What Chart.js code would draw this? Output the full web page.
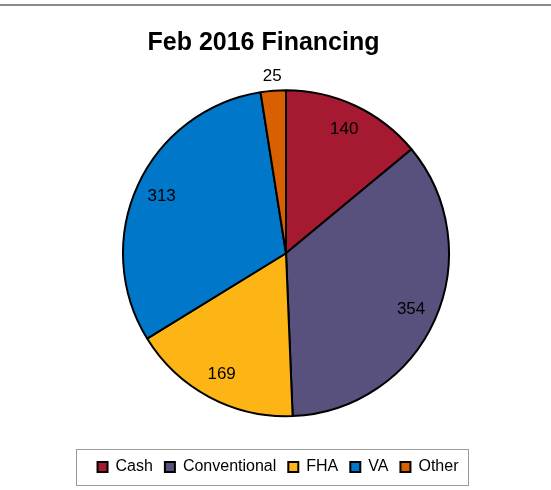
<!DOCTYPE html>
<html>
<head>
<meta charset="utf-8">
<title>Feb 2016 Financing</title>
<script src="https://cdn.jsdelivr.net/npm/chart.js@4/dist/chart.umd.min.js"></script>
<style>
    html, body { margin: 0; padding: 0; background: #ffffff; }
    #wrap { width: 551px; height: 490px; }
</style>
</head>
<body>
<div id="wrap"><canvas id="financingChart" width="551" height="490"></canvas></div>
<script>
// Financing counts for Feb 2016
const categories = ['Cash', 'Conventional', 'FHA', 'VA', 'Other'];
const counts = [140, 354, 169, 313, 25];
const sliceColors = ['#A51A30', '#58507D', '#FDB515', '#0077C8', '#D86000'];

const FONT = "'Liberation Sans', Arial, sans-serif";

// Gray rule across the top and the frame around the legend
const framePlugin = {
    id: 'frame',
    afterLayout(chart) {
        // Title and legend sit a little left of the pie in the original
        chart.titleBlock.left -= 22.5;
        chart.titleBlock.right -= 22.5;
        chart.legend.left -= 8;
        chart.legend.right -= 8;
    },
    beforeDraw(chart) {
        const ctx = chart.ctx;
        ctx.save();
        ctx.fillStyle = '#ffffff';
        ctx.fillRect(0, 0, chart.width, chart.height);
        ctx.strokeStyle = '#8a8a8a';
        ctx.lineWidth = 2;
        ctx.beginPath();
        ctx.moveTo(0, 5);
        ctx.lineTo(chart.width, 5);
        ctx.stroke();
        ctx.restore();
    },
    afterDraw(chart) {
        const boxes = chart.legend.legendHitBoxes;
        if (!boxes || !boxes.length) return;
        const first = boxes[0];
        const last = boxes[boxes.length - 1];
        const midY = first.top + first.height / 2;
        const ctx = chart.ctx;
        ctx.save();
        ctx.strokeStyle = '#9a9a9a';
        ctx.lineWidth = 1;
        ctx.strokeRect(Math.round(first.left - 22) + 0.5, Math.round(midY - 18) + 0.5,
            Math.round(last.left + last.width + 9 - (first.left - 22)), 36);
        ctx.restore();
    }
};

// Value labels: inside near the rim, outside for thin slices
const valueLabels = {
    id: 'valueLabels',
    afterDatasetsDraw(chart) {
        const ctx = chart.ctx;
        const meta = chart.getDatasetMeta(0);
        const values = chart.data.datasets[0].data;
        const total = values.reduce((a, b) => a + b, 0);
        ctx.save();
        ctx.font = '17px ' + FONT;
        ctx.fillStyle = '#000000';
        ctx.textAlign = 'center';
        ctx.textBaseline = 'middle';
        meta.data.forEach((arc, i) => {
            const p = arc.getProps(['x', 'y', 'startAngle', 'endAngle', 'outerRadius'], true);
            const mid = (p.startAngle + p.endAngle) / 2;
            const r = values[i] / total < 0.05 ? p.outerRadius + 14 : p.outerRadius * 0.84;
            ctx.fillText(String(values[i]), p.x + Math.cos(mid) * r, p.y + Math.sin(mid) * r);
        });
        ctx.restore();
    }
};

new Chart(document.getElementById('financingChart'), {
    type: 'pie',
    data: {
        labels: categories,
        datasets: [{
            data: counts,
            backgroundColor: sliceColors,
            borderColor: '#000000',
            borderWidth: 2
        }]
    },
    options: {
        responsive: false,
        animation: false,
        radius: 163,
        layout: {
            padding: { left: 21, right: 0, top: 0, bottom: 5 }
        },
        plugins: {
            title: {
                display: true,
                text: 'Feb 2016 Financing',
                color: '#000000',
                font: { family: FONT, size: 25, weight: 'bold' },
                padding: { top: 28, bottom: 1.5 }
            },
            legend: {
                position: 'bottom',
                labels: {
                    color: '#000000',
                    font: { family: FONT, size: 16 },
                    boxWidth: 10,
                    boxHeight: 10,
                    padding: 12
                }
            },
            tooltip: { enabled: false }
        }
    },
    plugins: [framePlugin, valueLabels]
});
</script>
</body>
</html>
